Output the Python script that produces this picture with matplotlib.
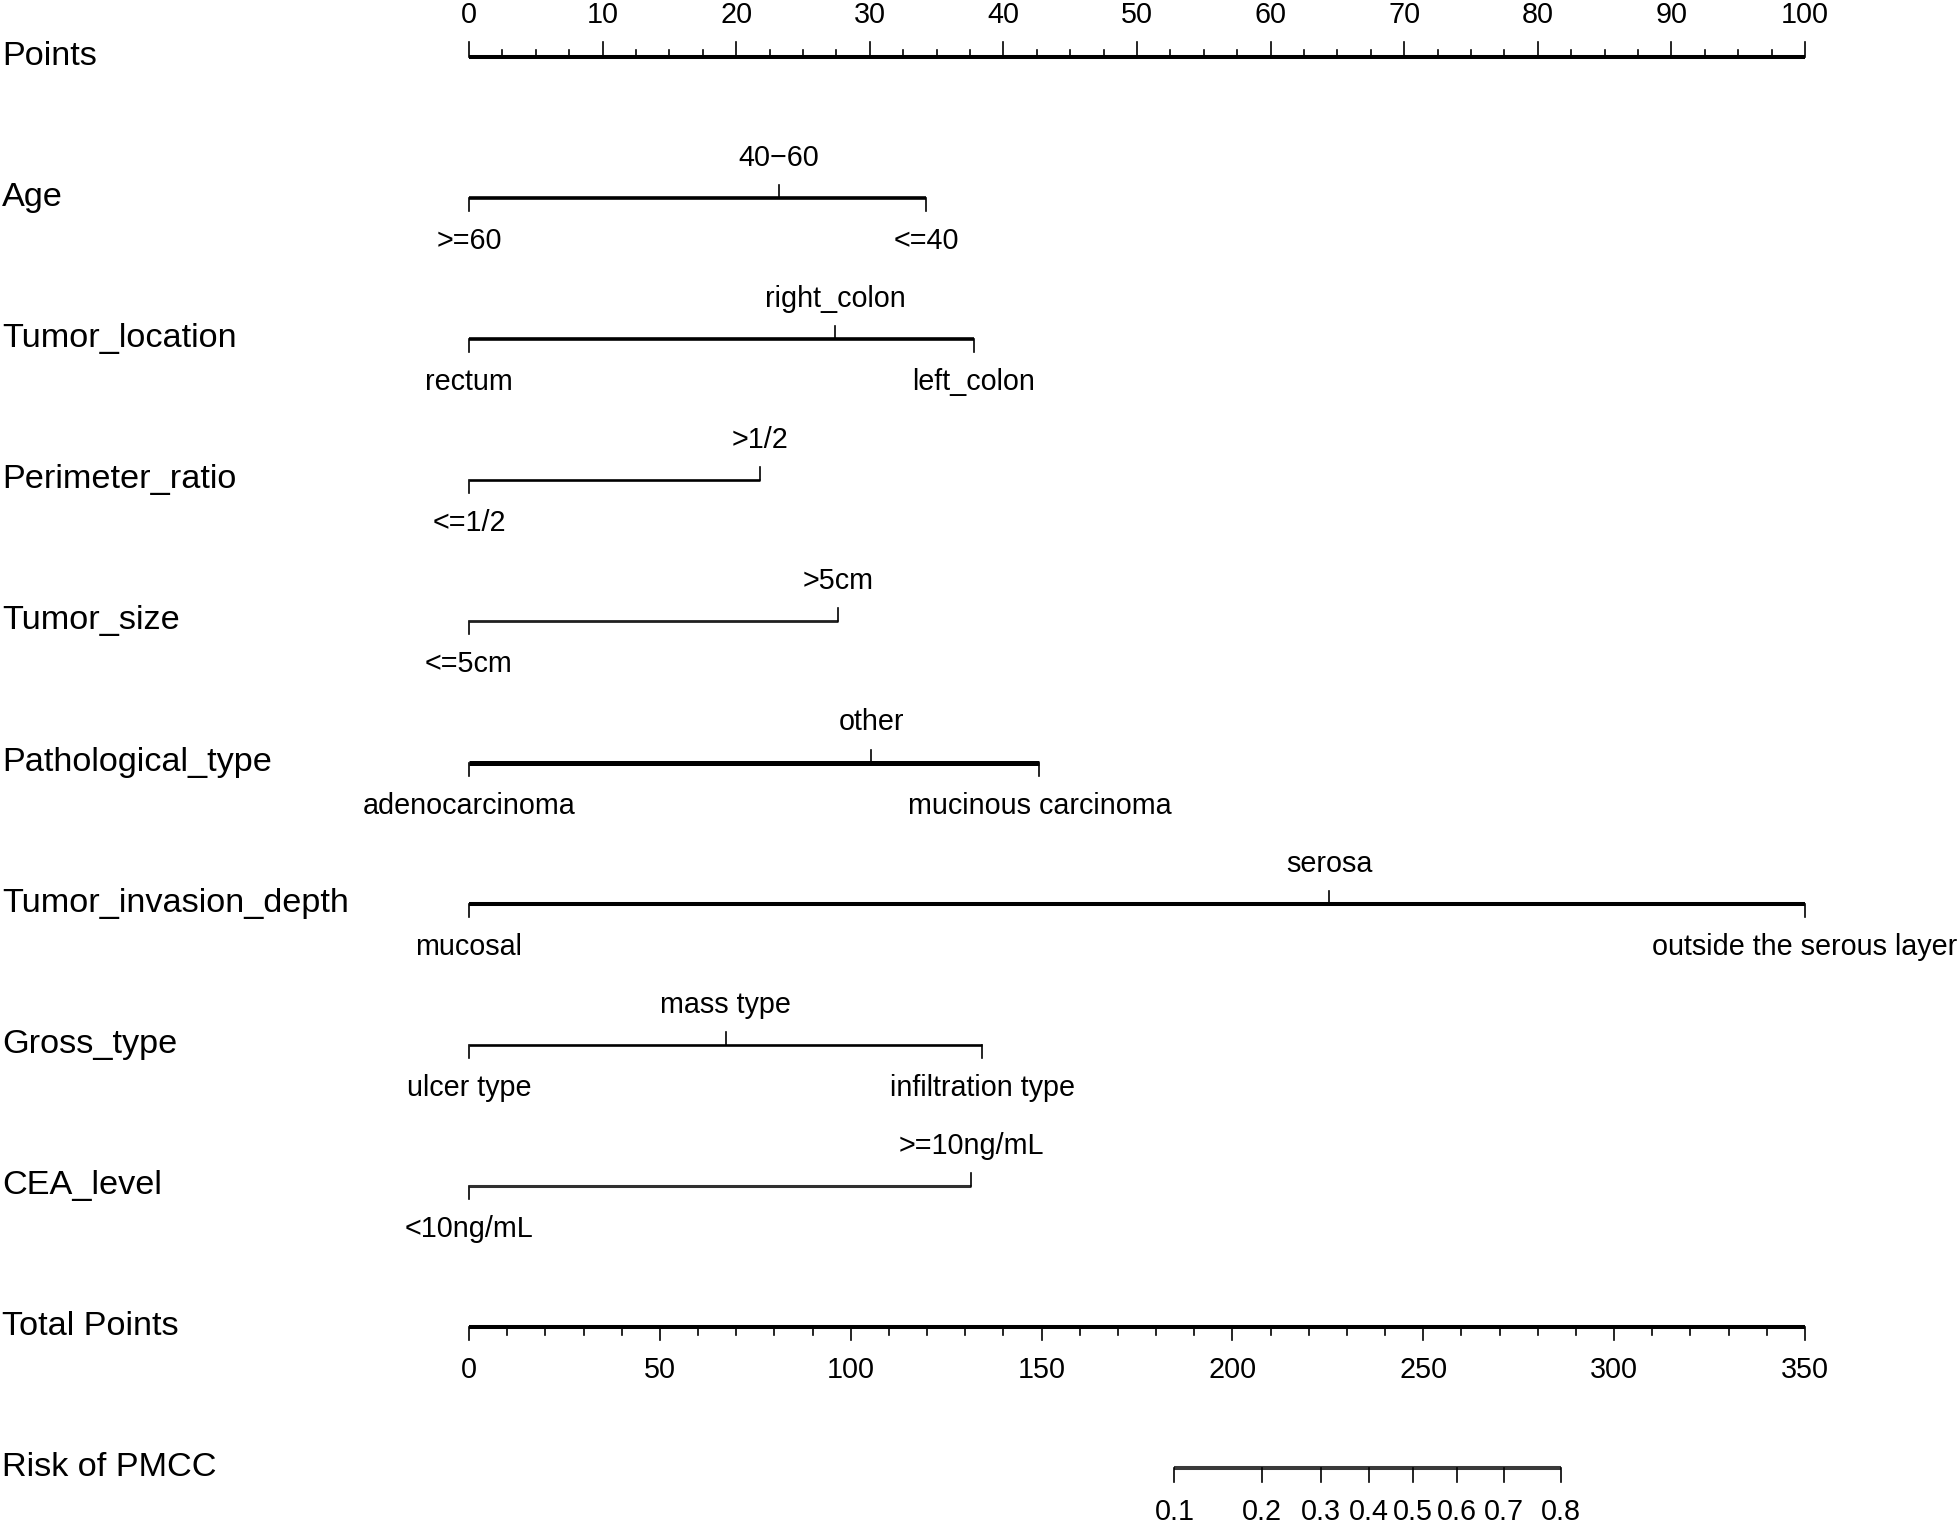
import matplotlib
matplotlib.use("Agg")
import matplotlib.pyplot as plt
import numpy as np

FONT = ['Liberation Sans Narrow', 'Liberation Sans', 'DejaVu Sans']

# ---------------- data ----------------
variables = ["Age", "Tumor_location", "Perimeter_ratio", "Tumor_size",
             "Pathological_type", "Tumor_invasion_depth", "Gross_type", "CEA_level"]

age_levels = [">=60", "40\u221260", "<=40"]
age_points = [0, 23.2, 34.2]

location_levels = ["rectum", "right_colon", "left_colon"]
location_points = [0, 27.4, 37.8]

perimeter_levels = ["<=1/2", ">1/2"]
perimeter_points = [0, 21.75]

size_levels = ["<=5cm", ">5cm"]
size_points = [0, 27.6]

patho_levels = ["adenocarcinoma", "other", "mucinous carcinoma"]
patho_points = [0, 30.1, 42.7]

invasion_levels = ["mucosal", "serosa", "outside the serous layer"]
invasion_points = [0, 64.4, 100]

gross_levels = ["ulcer type", "mass type", "infiltration type"]
gross_points = [0, 19.2, 38.4]

cea_levels = ["<10ng/mL", ">=10ng/mL"]
cea_points = [0, 37.6]

points_ticks = list(range(0, 101, 10))
total_ticks = list(range(0, 351, 50))
total_max = 350

risk_labels = ["0.1", "0.2", "0.3", "0.4", "0.5", "0.6", "0.7", "0.8"]
risk_total_points = [184.8, 207.8, 223.2, 235.8, 247.2, 258.8, 271.2, 286.1]

# label side: +1 below, -1 above
sides = {
    3: [1, -1, 1],
    2: [1, -1],
}

var_levels = [age_levels, location_levels, perimeter_levels, size_levels,
              patho_levels, invasion_levels, gross_levels, cea_levels]
var_points = [age_points, location_points, perimeter_points, size_points,
              patho_points, invasion_points, gross_points, cea_points]
var_lw = [2.6, 2.6, 1.9, 2.0, 3.6, 2.9, 1.9, 2.2]
var_col = ["black", "black", "black", "#202020", "black", "black", "black", "#303030"]

# ---------------- layout ----------------
W, H = 1958, 1523
fig = plt.figure(figsize=(W / 100, H / 100), dpi=100)
ax = fig.add_axes([0, 0, 1, 1])
ax.set_axis_off()

px_per_pt = (1805 - 469) / 100.0
x0 = -469 / px_per_pt
x1 = (W - 469) / px_per_pt
row_px = 141.1
top_px = 57
ax.set_xlim(x0, x1)
ax.set_ylim((H - top_px) / row_px, -top_px / row_px)

def py(p):
    return p / row_px

name_fs = 24.7
lab_fs = 20.7
label_x = x0 + 2 / px_per_pt
name_dy = py(8)
below_dy = py(43)
above_dy = py(40)
tick_len = py(13)

# Points row
r = 0
ax.text(label_x, r + name_dy, "Points", fontsize=name_fs, family=FONT, ha="left", va="baseline")
ax.plot([0, 100], [r, r], color="black", lw=2.9, solid_capstyle="butt")
for t in np.arange(0, 100.01, 2.5):
    major = abs(t % 10) < 1e-9
    ax.plot([t, t], [r, r - py(15 if major else 7)], color="black", lw=1.2)
for t in points_ticks:
    ax.text(t, r - py(42), str(t), fontsize=lab_fs, family=FONT, ha="center", va="center")

# variable rows
for i, (name, levs, pts) in enumerate(zip(variables, var_levels, var_points)):
    r = i + 1
    ax.text(label_x, r + name_dy, name, fontsize=name_fs, family=FONT, ha="left", va="baseline")
    ax.plot([min(pts), max(pts)], [r, r], color=var_col[i], lw=var_lw[i], solid_capstyle="butt")
    sd = sides[len(levs)]
    for lev, p, s in zip(levs, pts, sd):
        ax.plot([p, p], [r, r + s * tick_len], color="black", lw=1.2)
        dy = below_dy if s > 0 else -above_dy
        ax.text(p, r + dy, lev, fontsize=lab_fs, family=FONT, ha="center", va="center")

# Total points row
r = len(variables) + 1
scale = 100.0 / total_max
ax.text(label_x, r + name_dy, "Total Points", fontsize=name_fs, family=FONT, ha="left", va="baseline")
ax.plot([0, 100], [r, r], color="black", lw=2.9, solid_capstyle="butt")
for t in range(0, total_max + 1, 10):
    major = t % 50 == 0
    ax.plot([t * scale, t * scale], [r, r + py(13 if major else 8)], color="black", lw=1.2)
for t in total_ticks:
    ax.text(t * scale, r + py(43), str(t), fontsize=lab_fs, family=FONT, ha="center", va="center")

# Risk row
r = len(variables) + 2
ax.text(label_x, r + name_dy, "Risk of PMCC", fontsize=name_fs, family=FONT, ha="left", va="baseline")
rx = [v * scale for v in risk_total_points]
ax.plot([rx[0], rx[-1]], [r, r], color="#3a3a3a", lw=2.9, solid_capstyle="butt")
for lab, x in zip(risk_labels, rx):
    ax.plot([x, x], [r, r + py(14)], color="black", lw=1.2)
    ax.text(x, r + py(44), lab, fontsize=lab_fs, family=FONT, ha="center", va="center")

fig.savefig("out.png", dpi=100, facecolor="white")
